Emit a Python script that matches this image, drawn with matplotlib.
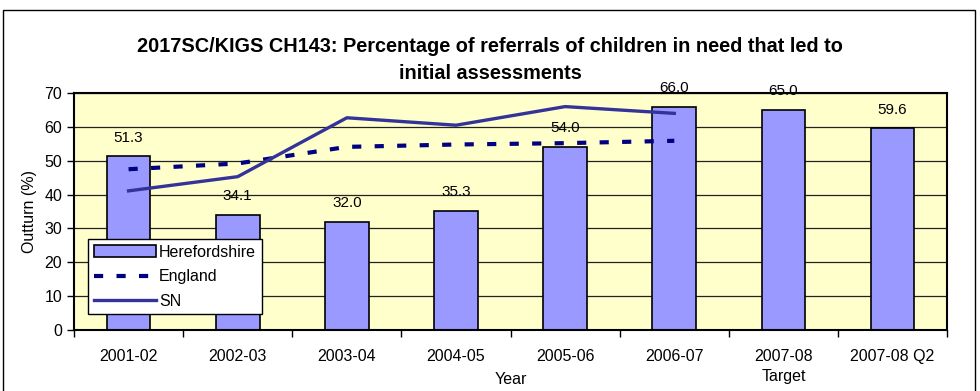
import numpy as np
import matplotlib.pyplot as plt
from matplotlib.patches import Rectangle

plt.rcParams["font.family"] = ["Liberation Sans", "DejaVu Sans"]

years = ["2001-02", "2002-03", "2003-04", "2004-05", "2005-06",
         "2006-07", "2007-08\nTarget", "2007-08 Q2"]
herefordshire = [51.3, 34.1, 32.0, 35.3, 54.0, 66.0, 65.0, 59.6]
england = [47.5, 49.2, 54.1, 54.8, 55.2, 55.9]
sn = [41.1, 45.3, 62.7, 60.5, 66.0, 64.0]

TITLE = "2017SC/KIGS CH143: Percentage of referrals of children in need that led to\ninitial assessments"


def plot():
    fig = plt.figure(figsize=(9.8, 3.91), dpi=100)
    ax = fig.add_axes([0.0755, 0.156, 0.891, 0.606])

    # outer chart border, open at the bottom edge
    fig.patches.append(Rectangle((0.003, -0.05), 0.992, 1.024, transform=fig.transFigure,
                                 fill=False, edgecolor="black", linewidth=1.0))

    x = np.arange(len(years))
    ax.set_facecolor("#FFFFCC")
    bars = ax.bar(x, herefordshire, width=0.4, color="#9999FF", edgecolor="black",
                  linewidth=1.2, label="Herefordshire", zorder=2)
    eng_line, = ax.plot(x[:len(england)], england, color="#000080", linestyle=(0, (2.2, 3.2)),
                        linewidth=3, label="England", zorder=3)
    sn_line, = ax.plot(x[:len(sn)], sn, color="#333399", linewidth=2.4, label="SN", zorder=3)

    for b, v in zip(bars, herefordshire):
        ax.annotate(f"{v:.1f}", (b.get_x() + b.get_width() / 2, v), xytext=(0, 13.5),
                    textcoords="offset points", ha="center", va="center",
                    fontsize=11, annotation_clip=False, zorder=5)

    ax.set_xlim(-0.5, len(years) - 0.5)
    ax.set_ylim(0, 70)
    ax.set_yticks(range(0, 71, 10))
    ax.yaxis.grid(True, color="#222222", linewidth=0.9)
    ax.set_axisbelow(True)

    ax.set_xticks(x)
    ax.set_xticklabels(years, fontsize=11.5, linespacing=1.4)
    ax.set_xticks(np.arange(-0.5, len(years)), minor=True)
    ax.tick_params(axis="x", which="major", length=0, pad=14)
    ax.tick_params(axis="x", which="minor", length=5, width=1, direction="out")
    ax.tick_params(axis="y", labelsize=11.5, length=5, width=1, direction="out")

    for s in ax.spines.values():
        s.set_linewidth(1.5)

    ax.set_xlabel("Year", fontsize=11.5, labelpad=-9)
    ax.set_ylabel("Outturn (%)", fontsize=11.5, labelpad=5)
    fig.suptitle(TITLE, fontsize=14.3, fontweight="bold", y=0.905, linespacing=1.5)

    leg = ax.legend([bars, eng_line, sn_line], ["Herefordshire", "England", "SN"],
                    loc="upper left", bbox_to_anchor=(0.016, 0.384), borderaxespad=0,
                    fontsize=11.5, handlelength=3.9, handletextpad=0.2,
                    labelspacing=0.6, fancybox=False, framealpha=1,
                    edgecolor="black", borderpad=0.35)
    leg.get_frame().set_linewidth(1.0)

    fig.savefig("out.png", dpi=100)


def main():
    plot()


if __name__ == "__main__":
    main()
